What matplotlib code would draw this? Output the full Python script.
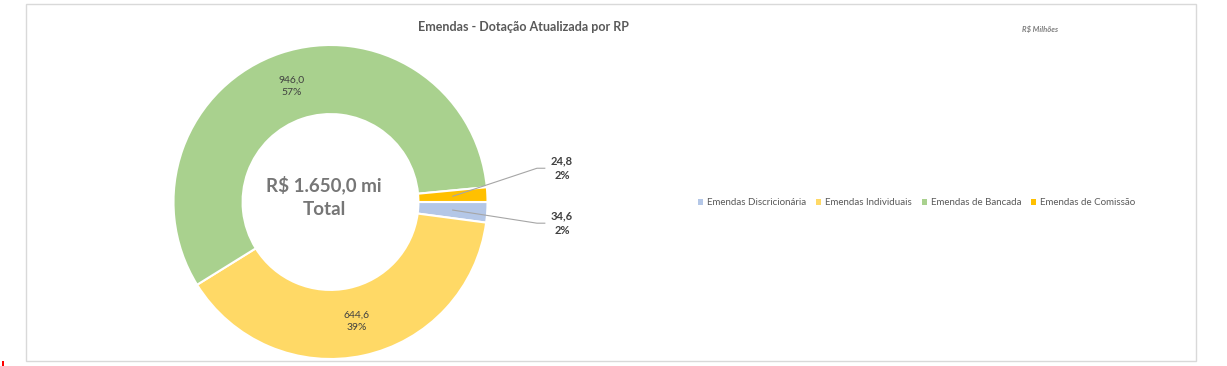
"""Donut chart: Emendas - Dotacao Atualizada por RP."""

import numpy as np
import matplotlib

matplotlib.use("Agg")
import matplotlib.pyplot as plt
from matplotlib.patches import Patch, Rectangle

plt.rcParams["font.family"] = ["Lato", "DejaVu Sans"]

W, H = 1227, 366

categories = [
    "Emendas Discricionária",
    "Emendas Individuais",
    "Emendas de Bancada",
    "Emendas de Comissão",
]
values = [34.6, 644.6, 946.0, 24.8]
value_labels = ["34,6", "644,6", "946,0", "24,8"]
pct_labels = ["2%", "39%", "57%", "2%"]
colors = ["#B4C7E7", "#FFD966", "#A9D18E", "#FFC000"]
total_lines = ["R$ 1.650,0 mi", "Total"]

# small slices get an outside label with a leader line (data coords of text)
outside_pos = {0: (1.475, -0.135), 3: (1.475, 0.215)}


def px_box(x0, y0, x1, y1):
    # pixel box (top-left origin) -> figure fraction [l, b, w, h]
    return [x0 / W, (H - y1) / H, (x1 - x0) / W, (y1 - y0) / H]


fig = plt.figure(figsize=(W / 100, H / 100), dpi=100)

# chart frame
fig.patches.append(Rectangle((26 / W, (H - 361) / H), (1196 - 26) / W, (361 - 4) / H,
                             transform=fig.transFigure, fill=False,
                             edgecolor="#D9D9D9", linewidth=1.0))
fig.patches.append(Rectangle((2 / W, 0), 2 / W, 5 / H, transform=fig.transFigure,
                             facecolor="red", edgecolor="none"))

cx, cy, r = 330.5, 202, 157
ax = fig.add_axes(px_box(cx - r, cy - r, cx + r, cy + r))
wedges, _ = ax.pie(
    values,
    colors=colors,
    startangle=0,
    counterclock=False,
    radius=1.0,
    wedgeprops=dict(width=0.44, edgecolor="white", linewidth=1.5),
)
ax.set_xlim(-1, 1)
ax.set_ylim(-1, 1)
ax.set_aspect("equal")
ax.axis("off")

mid_r = 0.78
for i, w in enumerate(wedges):
    ang = np.deg2rad((w.theta1 + w.theta2) / 2)
    px, py = mid_r * np.cos(ang), mid_r * np.sin(ang)
    text = f"{value_labels[i]}\n{pct_labels[i]}"
    if i in outside_pos:
        tx, ty = outside_pos[i]
        ax.plot([px, tx - 0.16, tx - 0.11], [py, ty, ty], color="#A6A6A6",
                linewidth=0.8, clip_on=False)
        ax.text(tx, ty, text, ha="center", va="center", fontsize=8,
                color="#404040", fontweight="bold", linespacing=1.45, clip_on=False)
    else:
        ax.text(px, py, text, ha="center", va="center", fontsize=7.5,
                color="#404040", linespacing=1.5)

ax.text(-0.04, 0.108, total_lines[0], ha="center", va="center", fontsize=13.5,
        fontweight="bold", color="#767676")
ax.text(-0.04, -0.05, total_lines[1], ha="center", va="center", fontsize=13.5,
        fontweight="bold", color="#767676")

fig.text(523 / W, 1 - 27 / H, "Emendas - Dotação Atualizada por RP", ha="center",
         va="center", fontsize=9, fontweight="bold", color="#595959")
fig.text(1040 / W, 1 - 29 / H, "R$ Milhões", ha="center", va="center",
         fontsize=5.5, fontstyle="italic", fontweight="bold", color="#7F7F7F")

handles = [Patch(facecolor=c, edgecolor="none") for c in colors]
fig.legend(handles, categories, loc="center left", bbox_to_anchor=(694 / W, 1 - 203 / H),
           ncol=4, frameon=False, fontsize=7, labelcolor="#595959",
           handlelength=0.55, handleheight=0.55, handletextpad=0.4,
           columnspacing=1.0, borderaxespad=0)

fig.savefig("out.png", dpi=100)
